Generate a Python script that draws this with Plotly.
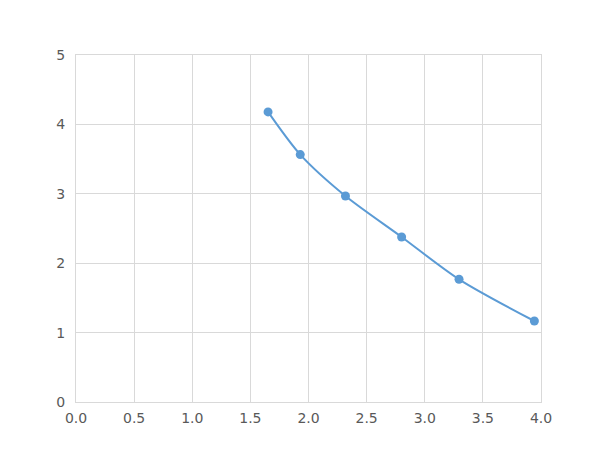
import plotly.graph_objects as go

x_vals = [1.652, 1.929, 2.318, 2.801, 3.295, 3.943]
y_vals = [4.18, 3.565, 2.968, 2.378, 1.768, 1.167]

fig = go.Figure()
fig.add_trace(go.Scatter(
    x=x_vals, y=y_vals, mode="lines+markers",
    line=dict(color="#5b9bd5", width=2, shape="spline", smoothing=0.8),
    marker=dict(color="#5b9bd5", size=9),
    showlegend=False,
))
fig.update_layout(
    width=600, height=450,
    margin=dict(l=68, r=67, t=47, b=56),
    plot_bgcolor="white", paper_bgcolor="white",
    font=dict(family="DejaVu Sans", size=14, color="#595959"),
)
fig.update_xaxes(range=[0, 4], tickvals=[0, 0.5, 1, 1.5, 2, 2.5, 3, 3.5, 4],
                 ticktext=["0.0", "0.5", "1.0", "1.5", "2.0", "2.5", "3.0", "3.5", "4.0"],
                 showgrid=True, gridcolor="#d9d9d9", gridwidth=1,
                 showline=True, linecolor="#d9d9d9", mirror=True, zeroline=False,
                 ticks="", ticklen=0, ticklabelstandoff=3)
fig.update_yaxes(range=[0, 5], tickvals=[0, 1, 2, 3, 4, 5],
                 showgrid=True, gridcolor="#d9d9d9", gridwidth=1,
                 showline=True, linecolor="#d9d9d9", mirror=True, zeroline=False,
                 ticks="outside", ticklen=7, tickcolor="white")
fig.write_html("out.html")
